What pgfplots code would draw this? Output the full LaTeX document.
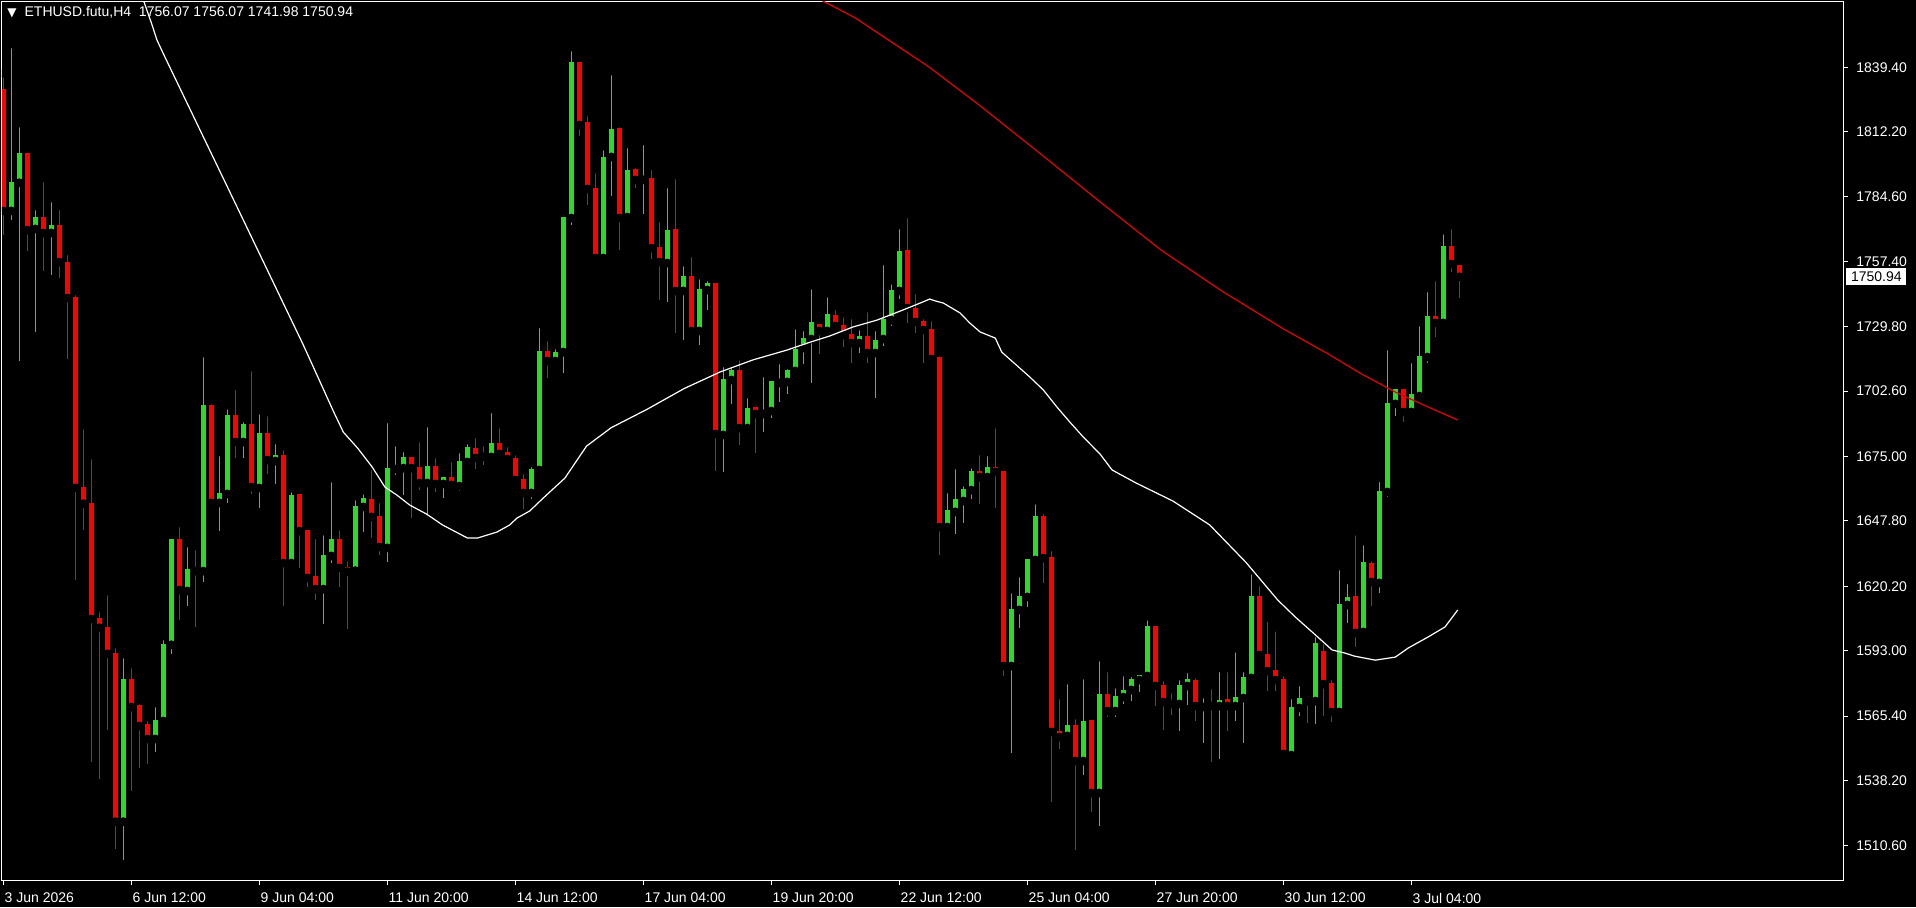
\documentclass[border=0pt]{standalone}
\usepackage{pgfplots}
\usepackage{pgfplotstable}
\pgfplotsset{compat=1.18}
\usepackage{fontspec}
\setmainfont{Liberation Sans}
\newfontfamily\dejavu{DejaVu Sans}
\definecolor{bull}{RGB}{40,220,40}
\definecolor{bear}{RGB}{255,0,0}
\definecolor{maRed}{RGB}{230,0,0}

\pgfplotstableread{
i o h l c
1 1778.7 1849.2 1774.9 1790.9
2 1790.6 1815.8 1715.5 1803.2
4 1771.1 1780.8 1727.6 1776.1
6 1769.4 1784.2 1751.6 1772.8
15 1520.8 1591.6 1504.6 1581.0
19 1555.7 1570.9 1550.2 1563.7
20 1563.3 1599.2 1562.4 1595.8
21 1595.5 1641.0 1591.5 1640.2
23 1618.2 1638.5 1611.9 1627.5
25 1626.6 1718.7 1622.0 1696.7
27 1655.4 1676.9 1643.5 1659.6
28 1659.2 1696.7 1655.4 1692.5
30 1681.1 1691.3 1674.4 1688.7
32 1661.7 1694.6 1653.2 1684.9
34 1673.1 1682.0 1663.4 1675.6
36 1630.0 1661.7 1630.0 1658.7
40 1619.0 1643.5 1604.3 1633.4
41 1633.0 1665.9 1630.0 1640.2
44 1626.8 1658.3 1626.4 1654.1
45 1653.7 1660.8 1643.1 1657.5
48 1636.4 1690.9 1630.5 1670.1
49 1669.7 1681.1 1667.2 1670.1
50 1670.1 1678.6 1658.7 1674.8
53 1663.8 1689.2 1650.7 1671.0
55 1663.4 1667.6 1657.5 1666.3
57 1662.5 1678.2 1660.4 1673.1
58 1672.7 1682.0 1671.0 1679.0
61 1674.8 1695.1 1673.1 1680.7
66 1659.6 1672.3 1657.1 1669.7
67 1669.3 1731.0 1668.5 1719.6
69 1715.3 1722.1 1713.7 1719.1
70 1719.1 1776.5 1710.3 1776.1
71 1775.7 1847.9 1772.8 1841.6
75 1758.8 1806.1 1758.6 1801.5
76 1801.5 1837.8 1785.0 1813.3
78 1776.1 1807.0 1775.3 1796.0
80 1791.8 1808.3 1777.4 1792.6
83 1756.7 1790.1 1740.3 1770.6
85 1744.9 1757.1 1724.2 1751.2
87 1728.0 1751.6 1722.0 1745.7
88 1745.3 1750.8 1736.9 1748.3
90 1684.1 1714.5 1668.5 1707.7
91 1707.3 1714.1 1697.2 1711.5
93 1687.0 1701.4 1686.8 1695.5
95 1693.0 1710.3 1685.3 1694.6
96 1694.2 1707.3 1691.3 1706.9
97 1706.1 1715.8 1698.0 1706.9
98 1706.5 1713.7 1701.4 1711.5
99 1711.1 1730.5 1709.8 1720.4
100 1720.8 1729.7 1714.1 1725.0
101 1724.6 1747.4 1706.1 1731.8
103 1728.0 1744.0 1727.6 1735.2
107 1722.9 1730.1 1718.7 1725.9
109 1718.7 1729.7 1699.7 1724.2
110 1724.6 1757.6 1721.7 1733.1
111 1732.6 1749.5 1730.1 1745.3
112 1744.9 1772.8 1741.5 1761.8
118 1645.2 1661.3 1645.0 1652.4
119 1651.6 1671.4 1642.3 1657.1
120 1656.2 1664.2 1646.9 1661.3
121 1660.8 1671.8 1657.1 1668.9
123 1666.3 1676.9 1664.7 1670.6
126 1586.5 1619.0 1549.8 1610.6
127 1610.2 1625.8 1602.6 1616.1
128 1615.7 1633.0 1611.4 1631.7
129 1631.3 1656.6 1630.0 1649.9
133 1557.0 1580.6 1556.5 1561.6
135 1546.4 1582.7 1540.5 1563.3
137 1532.9 1590.3 1519.0 1574.7
139 1567.5 1578.9 1565.0 1573.9
140 1573.4 1584.0 1570.5 1576.4
141 1576.4 1583.6 1571.7 1581.0
142 1580.6 1583.6 1575.5 1582.7
143 1582.3 1607.6 1581.9 1603.4
147 1570.5 1582.3 1559.1 1578.5
148 1578.1 1585.3 1570.0 1581.0
150 1569.2 1574.7 1554.0 1570.5
152 1569.6 1585.7 1547.3 1572.2
154 1569.6 1594.1 1563.3 1573.4
155 1573.0 1585.7 1554.0 1581.9
156 1581.5 1627.0 1580.0 1616.0
161 1548.9 1574.3 1547.3 1569.2
162 1568.8 1579.8 1565.4 1573.0
164 1571.7 1600.5 1562.0 1596.2
167 1567.1 1628.8 1567.0 1612.7
168 1612.3 1622.9 1604.7 1615.7
170 1600.9 1639.3 1600.0 1630.4
172 1621.6 1666.0 1617.3 1660.4
173 1660.0 1721.7 1657.9 1697.6
174 1697.2 1704.8 1692.1 1703.5
176 1693.8 1716.2 1692.5 1701.4
177 1700.5 1731.8 1700.1 1717.4
178 1717.0 1746.2 1714.5 1734.3
180 1731.4 1770.6 1730.1 1763.9
}\bulltab

\pgfplotstableread{
i o h l c
0 1830.2 1836.8 1768.5 1778.7
3 1803.2 1803.4 1761.8 1770.6
5 1776.1 1792.6 1753.3 1769.4
7 1772.8 1780.8 1750.4 1757.1
8 1757.1 1761.8 1716.2 1741.9
9 1742.4 1744.9 1623.0 1661.8
10 1662.1 1688.3 1644.1 1655.1
11 1655.4 1675.6 1546.1 1606.4
12 1606.8 1611.0 1538.8 1602.7
13 1603.0 1618.2 1559.6 1591.7
14 1592.0 1595.8 1509.2 1520.8
16 1581.0 1587.4 1533.7 1569.2
17 1570.0 1572.2 1543.4 1561.2
18 1562.0 1565.0 1545.1 1555.7
22 1640.2 1646.9 1606.0 1618.6
24 1627.0 1637.2 1603.0 1626.6
26 1696.7 1698.9 1654.5 1655.4
29 1692.5 1704.8 1674.4 1681.1
31 1688.7 1712.8 1659.2 1662.1
33 1684.9 1693.8 1667.6 1673.5
35 1675.6 1679.4 1611.9 1630.0
37 1659.2 1659.6 1627.9 1643.5
38 1644.0 1645.6 1619.9 1623.7
39 1624.5 1641.9 1614.4 1619.0
42 1640.2 1645.6 1620.0 1628.0
43 1628.3 1632.5 1602.2 1626.4
46 1657.1 1671.0 1640.6 1649.5
47 1649.9 1657.1 1633.4 1636.8
51 1674.8 1676.1 1649.1 1670.1
52 1670.6 1682.8 1660.8 1663.8
54 1671.0 1676.1 1660.0 1663.4
56 1666.3 1674.4 1661.7 1663.0
59 1678.6 1684.5 1669.7 1674.4
60 1675.6 1681.1 1671.4 1674.9
62 1680.7 1688.7 1674.4 1676.1
63 1676.9 1680.7 1672.3 1673.9
64 1674.4 1677.3 1663.8 1665.1
65 1665.5 1669.3 1652.8 1659.6
68 1719.6 1725.5 1708.2 1715.3
72 1841.6 1842.0 1810.4 1815.0
73 1816.3 1820.5 1781.2 1788.0
74 1788.4 1796.4 1757.1 1758.8
77 1813.7 1815.8 1762.2 1775.7
79 1796.4 1798.5 1788.4 1791.8
81 1792.6 1797.7 1758.4 1763.0
82 1763.5 1775.7 1741.1 1757.1
84 1771.1 1793.9 1727.2 1744.9
86 1751.2 1761.0 1727.2 1728.0
89 1748.3 1750.0 1669.0 1684.5
92 1711.5 1717.4 1679.9 1687.0
94 1695.9 1697.2 1676.5 1693.0
102 1731.0 1731.2 1718.3 1728.0
104 1734.8 1738.6 1729.3 1730.1
105 1730.5 1735.6 1721.2 1726.3
106 1726.7 1734.8 1714.5 1722.9
108 1725.9 1737.7 1714.5 1718.7
113 1762.2 1777.4 1731.4 1737.7
114 1737.7 1745.3 1727.2 1731.8
115 1732.2 1734.8 1714.5 1728.4
116 1728.8 1733.9 1715.8 1716.2
117 1717.0 1719.1 1633.4 1645.2
122 1668.9 1677.3 1655.0 1666.3
124 1670.6 1688.7 1653.2 1668.5
125 1668.9 1669.7 1582.3 1586.5
130 1649.9 1652.4 1621.6 1632.1
131 1632.5 1636.8 1529.1 1558.7
132 1559.1 1574.3 1551.5 1556.5
134 1561.6 1565.8 1508.8 1546.4
136 1563.7 1563.9 1524.9 1532.9
138 1574.7 1585.7 1565.0 1567.5
144 1603.4 1603.9 1569.6 1578.1
145 1578.5 1581.9 1559.5 1571.3
146 1571.7 1576.8 1565.8 1570.5
149 1580.6 1583.1 1563.3 1569.6
151 1570.5 1578.5 1546.0 1569.6
153 1572.6 1585.7 1559.1 1569.6
157 1616.0 1622.0 1589.5 1591.2
158 1591.6 1607.1 1576.0 1584.4
159 1584.8 1602.9 1576.0 1580.6
160 1581.0 1584.0 1548.9 1549.4
163 1573.0 1574.3 1562.5 1571.7
165 1592.9 1597.5 1565.4 1578.9
166 1579.3 1582.3 1562.9 1567.1
169 1616.1 1643.5 1594.5 1600.5
171 1630.0 1632.5 1611.9 1622.0
175 1703.5 1703.9 1689.6 1693.8
179 1734.3 1750.8 1725.5 1731.4
181 1763.9 1772.8 1752.9 1756.3
182 1756.07 1756.07 1741.98 1750.94
}\beartab

\begin{document}
\begin{tikzpicture}
\path[use as bounding box] (-1pt,-13.5pt) rectangle (957pt,440pt);
\fill[black] (-1pt,-13.5pt) rectangle (957pt,440pt);
\begin{axis}[
  scale only axis,
  width=920.5pt, height=439pt,
  xmin=-0.166, xmax=229.96,
  ymin=1496.16, ymax=1866.94,
  axis background/.style={fill=black},
  axis line style={white, line width=0.5pt},
  tick style={white, line width=0.5pt},
  tick align=outside,
  major tick length=2.5pt,
  xtick pos=bottom, ytick pos=right,
  yticklabel pos=right,
  xtick={0,16,32,48,64,80,96,112,128,144,160,176},
  xticklabels={3 Jun 2026,6 Jun 12:00,9 Jun 04:00,11 Jun 20:00,14 Jun 12:00,17 Jun 04:00,19 Jun 20:00,22 Jun 12:00,25 Jun 04:00,27 Jun 20:00,30 Jun 12:00,3 Jul 04:00},
  ytick={1510.60,1538.20,1565.40,1593.00,1620.20,1647.80,1675.00,1702.60,1729.80,1757.40,1784.60,1812.20,1839.40},
  yticklabels={1510.60,1538.20,1565.40,1593.00,1620.20,1647.80,1675.00,1702.60,1729.80,1757.40,1784.60,1812.20,1839.40},
  tick label style={font=\fontsize{7}{8}\selectfont, text=white, inner sep=0pt},
  xticklabel style={anchor=west, yshift=-6.5pt, xshift=0.5pt},
  yticklabel style={anchor=west, xshift=4pt},
  clip=true,
  clip marker paths=true,
]
% wicks
\addplot[only marks, mark=none, forget plot, error bars/.cd, y dir=minus, y explicit, error mark=none, error bar style={draw=bull, line width=0.5pt}]
  table[x=i, y=h, y error minus expr=\thisrow{h}-\thisrow{l}] {\bulltab};
\addplot[only marks, mark=none, forget plot, error bars/.cd, y dir=minus, y explicit, error mark=none, error bar style={draw=bear, line width=0.5pt}]
  table[x=i, y=h, y error minus expr=\thisrow{h}-\thisrow{l}] {\beartab};
% bodies
\addplot[only marks, mark=none, forget plot, error bars/.cd, y dir=plus, y explicit, error mark=none, error bar style={draw=bull, line width=2.5pt}]
  table[x=i, y=o, y error plus expr=\thisrow{c}-\thisrow{o}] {\bulltab};
\addplot[only marks, mark=none, forget plot, error bars/.cd, y dir=plus, y explicit, error mark=none, error bar style={draw=bear, line width=2.5pt}]
  table[x=i, y=c, y error plus expr=\thisrow{o}-\thisrow{c}] {\beartab};
% white moving average
\addplot[white, line width=0.6pt, line join=round] coordinates {
(16.6,1876.2) (17.5,1867.8) (18.6,1857.2) (19.2,1850.9) (20.2,1843.7) (28.8,1783.3) (37.5,1722.1) (41.3,1693.8) (42.5,1685.3) (44.3,1678.5) (46.1,1670.6) (47.7,1662.1) (49.2,1658.7) (50.8,1654.5) (52.9,1650.7) (54.9,1646.1) (58.0,1640.6) (59.3,1640.6) (61.7,1643.1) (63.3,1646.1) (64.2,1649.0) (65.8,1652.0) (67.5,1657.5) (70.2,1665.9) (72.9,1679.4) (76.0,1687.2) (80.5,1695.0) (85.1,1703.7) (89.6,1710.7) (93.7,1715.8) (98.0,1720.0) (100.5,1722.9) (103.3,1725.9) (106.2,1729.7) (109.2,1732.6) (112.1,1736.4) (114.6,1739.8) (115.8,1741.5) (116.5,1740.7) (117.5,1739.8) (119.6,1735.6) (120.8,1731.4) (122.1,1727.6) (124.0,1725.0) (124.8,1719.1) (126.2,1714.9) (128.3,1708.6) (130.0,1703.1) (131.7,1695.9) (133.3,1689.6) (135.0,1683.2) (137.1,1676.0) (138.6,1669.3) (141.6,1663.8) (146.2,1656.2) (150.8,1646.1) (155.3,1630.4) (159.3,1614.4) (161.5,1607.2) (163.6,1600.9) (166.1,1593.3) (167.7,1592.0) (168.9,1590.7) (171.5,1589.0) (174.0,1590.3) (175.6,1594.1) (178.1,1598.8) (180.2,1603.0) (181.8,1610.2)
};
% red moving average
\addplot[maRed, line width=0.6pt, line join=round] coordinates {
(101.0,1872.0) (102.2,1867.8) (106.5,1860.2) (115.7,1839.5) (121.8,1823.9) (129.5,1803.2) (137.1,1782.5) (144.7,1762.2) (152.3,1744.9) (160.0,1728.9) (165.6,1718.3) (169.8,1709.8) (174.0,1702.2) (178.1,1695.9) (181.8,1690.4)
};
\end{axis}
% title
\node[anchor=west, text=white, inner sep=0pt, font=\fontsize{7}{8}\selectfont] at (2.5pt,434pt)
  {{\dejavu\fontsize{6}{7}\selectfont ▼}\hspace{4pt}ETHUSD.futu,H4\ \ 1756.07 1756.07 1741.98 1750.94};
% current price label
\node[anchor=west, fill=white, text=black, inner xsep=2.3pt, inner ysep=0pt, minimum height=8.5pt, font=\fontsize{7}{8}\selectfont]
  at (922pt,301.66pt) {1750.94};
\end{tikzpicture}
\end{document}
